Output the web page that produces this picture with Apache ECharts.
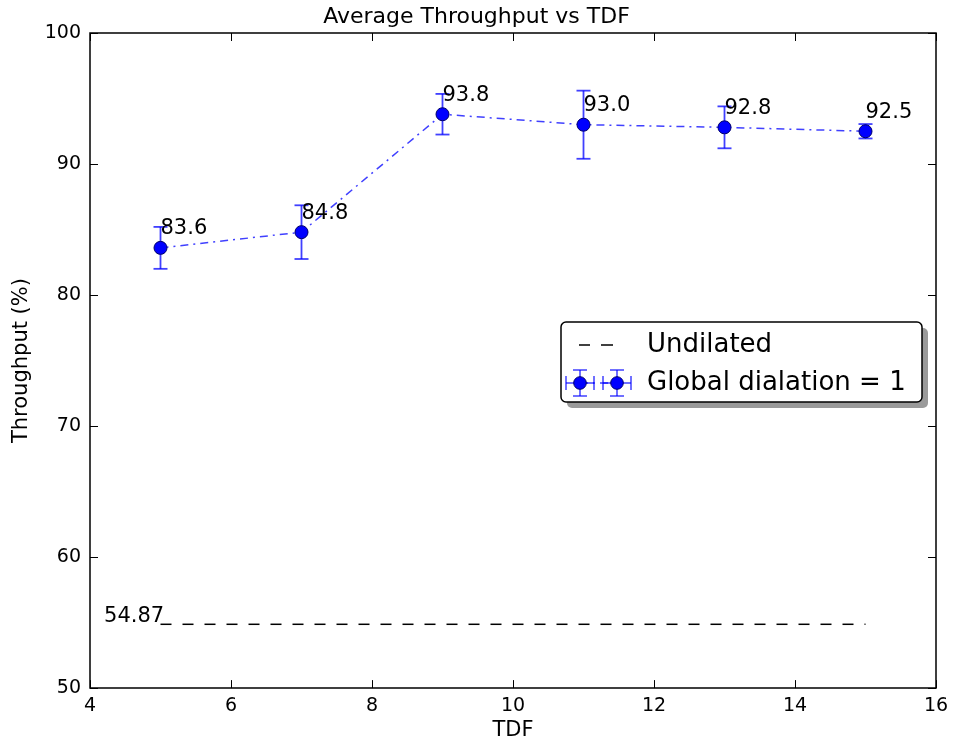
<!DOCTYPE html>
<html>
<head>
<meta charset="utf-8">
<script src="https://cdn.jsdelivr.net/npm/echarts@6/dist/echarts.min.js"></script>
<style>
html,body{margin:0;padding:0;background:#fff;}
#main{width:953px;height:746px;}
</style>
</head>
<body>
<div id="main"></div>
<script>
// ---- data ----
var tdf = [5, 7, 9, 11, 13, 15];
var throughput = [83.6, 84.8, 93.8, 93.0, 92.8, 92.5];
var errors = [1.6, 2.05, 1.55, 2.6, 1.6, 0.55];
var valueLabels = ['83.6', '84.8', '93.8', '93.0', '92.8', '92.5'];
var undilatedX = [5, 15];
var undilatedValue = 54.87;
var undilatedLabel = '54.87';
var undilatedLabelX = 4.2;
var xTicks = [4, 6, 8, 10, 12, 14, 16];
var yTicks = [50, 60, 70, 80, 90, 100];
var titleText = 'Average Throughput vs TDF';
var xName = 'TDF';
var yName = 'Throughput (%)';
var legendNames = ['Undilated', 'Global dialation = 1'];

var FONT = 'DejaVu Sans';
var BLUE = '#0000ff';
var BLUE_LINE = 'rgba(0,0,255,0.75)';

var chart = echarts.init(document.getElementById('main'), null, {renderer: 'canvas'});

var mainData = tdf.map(function (x, i) { return [x, throughput[i]]; });
var errData = tdf.map(function (x, i) { return [x, throughput[i], errors[i]]; });
var labelData = tdf.map(function (x, i) { return [x, throughput[i], valueLabels[i]]; });
var undilatedData = undilatedX.map(function (x) { return [x, undilatedValue]; });

var axisCommon = {
  type: 'value',
  min: xTicks[0], max: xTicks[xTicks.length - 1], interval: 2,
  splitLine: {show: false},
  axisLine: {show: false},
  axisTick: {show: true, inside: true, length: 8, lineStyle: {color: '#000', width: 1}}
};

// legend drawn with graphic elements
var LX = 561, LY = 322, LW = 361, LH = 80;
function errIcon(cx, cy) {
  return [
    {type: 'line', shape: {x1: cx - 14, y1: cy, x2: cx + 14, y2: cy}, style: {stroke: BLUE_LINE, lineWidth: 1.5}},
    {type: 'line', shape: {x1: cx - 14, y1: cy - 7, x2: cx - 14, y2: cy + 7}, style: {stroke: BLUE_LINE, lineWidth: 1.5}},
    {type: 'line', shape: {x1: cx + 14, y1: cy - 7, x2: cx + 14, y2: cy + 7}, style: {stroke: BLUE_LINE, lineWidth: 1.5}},
    {type: 'line', shape: {x1: cx, y1: cy - 13, x2: cx, y2: cy + 13}, style: {stroke: BLUE_LINE, lineWidth: 1.5}},
    {type: 'line', shape: {x1: cx - 7, y1: cy - 13, x2: cx + 7, y2: cy - 13}, style: {stroke: BLUE_LINE, lineWidth: 1.5}},
    {type: 'line', shape: {x1: cx - 7, y1: cy + 13, x2: cx + 7, y2: cy + 13}, style: {stroke: BLUE_LINE, lineWidth: 1.5}},
    {type: 'circle', shape: {cx: cx, cy: cy, r: 6.3}, style: {fill: BLUE, stroke: '#00006a', lineWidth: 1}}
  ];
}
var legendChildren = [
  {type: 'rect', shape: {x: LX + 6, y: LY + 6, width: LW, height: LH, r: 5}, style: {fill: '#9a9a9a'}},
  {type: 'rect', shape: {x: LX, y: LY, width: LW, height: LH, r: 5}, style: {fill: '#fff', stroke: '#000', lineWidth: 1.5}},
  {type: 'line', shape: {x1: 579, y1: 345, x2: 590, y2: 345}, style: {stroke: '#000', lineWidth: 1.5}},
  {type: 'line', shape: {x1: 601, y1: 345, x2: 613, y2: 345}, style: {stroke: '#000', lineWidth: 1.5}},
  {type: 'text', x: 647, y: 345, style: {text: legendNames[0], font: '26px "' + FONT + '"', fill: '#000', align: 'left', verticalAlign: 'middle'}},
  {type: 'line', shape: {x1: 580, y1: 383, x2: 617, y2: 383}, style: {stroke: BLUE_LINE, lineWidth: 1.5, lineDash: [8, 5, 2, 5]}},
  {type: 'text', x: 647, y: 383, style: {text: legendNames[1], font: '26px "' + FONT + '"', fill: '#000', align: 'left', verticalAlign: 'middle'}}
].concat(errIcon(580, 383)).concat(errIcon(617, 383));

var option = {
  animation: false,
  backgroundColor: '#fff',
  textStyle: {fontFamily: FONT},
  title: {
    text: titleText, left: 'center', top: 1,
    textStyle: {fontFamily: FONT, fontSize: 22, fontWeight: 'normal', color: '#000'}
  },
  grid: {left: 90, right: 17, top: 33, bottom: 54, show: true, borderColor: '#000', borderWidth: 1.5, backgroundColor: 'transparent'},
  xAxis: [
    Object.assign({}, axisCommon, {
      position: 'bottom', name: xName, nameLocation: 'middle', nameGap: 29,
      nameTextStyle: {fontFamily: FONT, fontSize: 21, color: '#000'},
      axisLabel: {show: true, margin: 8, fontFamily: FONT, fontSize: 19, color: '#000'}
    }),
    Object.assign({}, axisCommon, {position: 'top', axisLabel: {show: false}})
  ],
  yAxis: [
    {
      type: 'value', min: yTicks[0], max: yTicks[yTicks.length - 1], interval: 10,
      position: 'left', name: yName, nameLocation: 'middle', nameGap: 58, nameRotate: 90,
      nameTextStyle: {fontFamily: FONT, fontSize: 21, color: '#000'},
      splitLine: {show: false}, axisLine: {show: false},
      axisTick: {show: true, inside: true, length: 8, lineStyle: {color: '#000', width: 1}},
      axisLabel: {show: true, margin: 9, fontFamily: FONT, fontSize: 19, color: '#000'}
    },
    {
      type: 'value', min: yTicks[0], max: yTicks[yTicks.length - 1], interval: 10,
      position: 'right', splitLine: {show: false}, axisLine: {show: false},
      axisTick: {show: true, inside: true, length: 8, lineStyle: {color: '#000', width: 1}},
      axisLabel: {show: false}
    }
  ],
  series: [
    {
      name: legendNames[0], type: 'line', data: undilatedData, symbol: 'none',
      lineStyle: {color: '#000', width: 1.5, type: [11, 11]}, z: 2
    },
    {
      type: 'custom', name: 'undilatedLabel', data: [[undilatedLabelX, undilatedValue, undilatedLabel]], z: 3,
      renderItem: function (params, api) {
        var p = api.coord([api.value(0), api.value(1)]);
        return {type: 'text', x: p[0], y: p[1] + 3,
          style: {text: undilatedLabel, font: '21px "' + FONT + '"', fill: '#000', align: 'left', verticalAlign: 'bottom'}};
      }
    },
    {
      name: legendNames[1], type: 'line', data: mainData, symbol: 'none',
      lineStyle: {color: BLUE_LINE, width: 1.5, type: [8, 5, 2, 5]}, z: 3
    },
    {
      type: 'custom', name: 'errorbars', data: errData, z: 4,
      renderItem: function (params, api) {
        var x = api.value(0), y = api.value(1), e = api.value(2);
        var hi = api.coord([x, y + e]);
        var lo = api.coord([x, y - e]);
        var cap = 7;
        var st = {stroke: BLUE_LINE, lineWidth: 1.8};
        return {type: 'group', children: [
          {type: 'line', shape: {x1: hi[0], y1: hi[1], x2: lo[0], y2: lo[1]}, style: st},
          {type: 'line', shape: {x1: hi[0] - cap, y1: hi[1], x2: hi[0] + cap, y2: hi[1]}, style: st},
          {type: 'line', shape: {x1: lo[0] - cap, y1: lo[1], x2: lo[0] + cap, y2: lo[1]}, style: st}
        ]};
      }
    },
    {
      type: 'scatter', name: 'points', data: mainData, symbol: 'circle', symbolSize: 13, z: 5,
      itemStyle: {color: BLUE, borderColor: '#00006a', borderWidth: 1, opacity: 1}
    },
    {
      type: 'custom', name: 'valueLabels', data: labelData, z: 6,
      renderItem: function (params, api) {
        var p = api.coord([api.value(0), api.value(1)]);
        return {type: 'text', x: p[0], y: p[1] - 8.5,
          style: {text: valueLabels[params.dataIndex], font: '21px "' + FONT + '"', fill: '#000', align: 'left', verticalAlign: 'bottom'}};
      }
    }
  ],
  graphic: [{type: 'group', z: 100, children: legendChildren}]
};
chart.setOption(option);
</script>
</body>
</html>
